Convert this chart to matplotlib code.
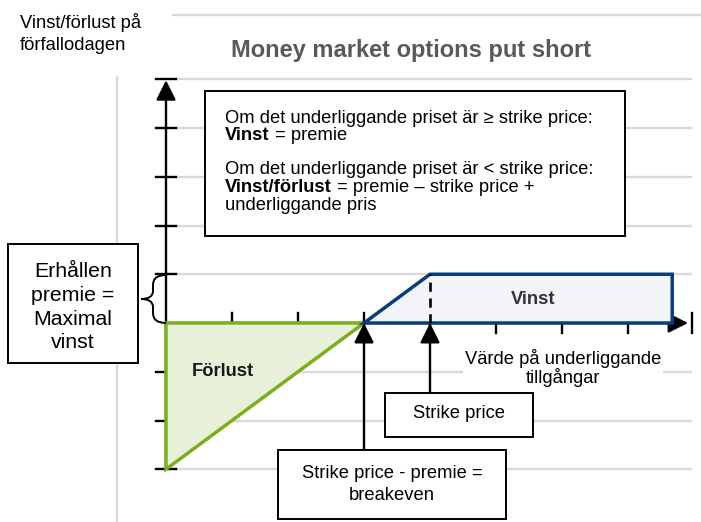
import matplotlib.pyplot as plt
from matplotlib.patches import Polygon, Rectangle, PathPatch
from matplotlib.path import Path
from matplotlib.transforms import Affine2D

plt.rcParams['font.family'] = ['Liberation Sans', 'DejaVu Sans']

# payoff data (short put), units of the diagram grid
premium = 1
strike = 4
breakeven = strike - premium
x_end = 7.67
loss_x = [0, breakeven, 0]
loss_y = [0, 0, -3]
profit_x = [breakeven, strike, x_end, x_end]
profit_y = [0, premium, premium, 0]
x_ticks = [1, 2, 3, 4, 5, 6, 7]
y_ticks = [-3, -2, -1, 1, 2, 3, 4, 5]
grid_levels = [-3, -2, -1, 1, 2, 3, 4, 5]

W, H = 701, 522
fig = plt.figure(figsize=(W / 100, H / 100), dpi=100)
# image-pixel transform for the annotation layout
pix = Affine2D().scale(1 / W, -1 / H).translate(0, 1) + fig.transFigure

# axes: origin at pixel (166, 323), 66 px per x unit, 48.75 px per y unit
x0, y0, sx, sy = 166, 323, 66, 48.75
ax = fig.add_axes([0, 0, 1, 1])
ax.set_xlim(-x0 / sx, (W - x0) / sx)
ax.set_ylim((y0 - H) / sy, y0 / sy)
ax.axis('off')

def py2y(p):
    return (y0 - p) / sy

grid_c = '#d9d9d9'
ax.hlines(grid_levels, 0.1, 7.97, color=grid_c, lw=1.7, zorder=0)
ax.plot([173, 700], [15, 15], color=grid_c, lw=1.7, transform=pix, zorder=0)
ax.plot([117, 117], [77, 522], color=grid_c, lw=1.7, transform=pix, zorder=0)

# axes arrows
arrow = dict(arrowstyle='-|>', color='black', lw=1.7, mutation_scale=30,
             shrinkA=0, shrinkB=0)
ax.annotate('', xy=(0, 4.98), xytext=(0, -3), arrowprops=arrow, zorder=2)
ax.annotate('', xy=(7.91, 0), xytext=(0, 0), arrowprops=arrow, zorder=2)
ax.plot([7.97, 7.97], [-0.2, 0.2], color='black', lw=1.7, zorder=2)

for t in x_ticks:
    ax.plot([t, t], [-0.2, 0.2], color='black', lw=1.7, zorder=2)
for t in y_ticks:
    ax.plot([-0.15, 0.15], [t, t], color='black', lw=1.7, zorder=2)

# payoff areas
ax.add_patch(Polygon(list(zip(loss_x, loss_y)), closed=True, facecolor='#e9f0da',
                     edgecolor='#7cae1e', lw=2.5, joinstyle='miter', zorder=3))
ax.add_patch(Polygon(list(zip(profit_x, profit_y)), closed=True, facecolor='#f2f4f8',
                     edgecolor='#0a3d7a', lw=2.5, joinstyle='miter', zorder=3))
ax.plot([strike, strike], [0, premium], color='black', lw=1.9,
        dashes=(3.5, 2.5), zorder=4)

# pointer arrows from the label boxes
ax.annotate('', xy=(strike, 0), xytext=(strike, py2y(393)), arrowprops=arrow, zorder=5)
ax.annotate('', xy=(breakeven, 0), xytext=(breakeven, py2y(450)), arrowprops=arrow, zorder=5)

# boxes
def box(x, y, w, h):
    ax.add_patch(Rectangle((x, y), w, h, transform=pix, facecolor='white',
                           edgecolor='black', lw=1.4, zorder=6))

box(205, 91, 420, 145)
box(8, 244, 130, 119)
box(385, 393, 148, 44)
box(278, 450, 228, 69)

fs = 13.2
tx = 225
ax.text(tx, 123, 'Om det underliggande priset är ≥ strike price:', transform=pix,
        fontsize=fs, va='baseline', zorder=7)
b1 = ax.text(tx, 140, 'Vinst', transform=pix, fontsize=fs, fontweight='bold',
             va='baseline', zorder=7)
ax.annotate(' = premie', xy=(1, 0), xycoords=b1, fontsize=fs, va='bottom',
            ha='left', zorder=7)
ax.text(tx, 174, 'Om det underliggande priset är < strike price:', transform=pix,
        fontsize=fs, va='baseline', zorder=7)
b2 = ax.text(tx, 192, 'Vinst/förlust', transform=pix, fontsize=fs, fontweight='bold',
             va='baseline', zorder=7)
ax.annotate(' = premie – strike price +', xy=(1, 0), xycoords=b2, fontsize=fs,
            va='bottom', ha='left', zorder=7)
ax.text(tx, 210, 'underliggande pris', transform=pix, fontsize=fs,
        va='baseline', zorder=7)

for line, yb in zip(['Erhållen', 'premie =', 'Maximal', 'vinst'], [277, 301, 325, 348]):
    ax.text(73, yb, line, transform=pix, fontsize=15.3, ha='center', va='baseline', zorder=7)

ax.text(459, 413, 'Strike price', transform=pix, fontsize=fs, ha='center',
        va='center', zorder=7)
ax.text(392, 474, 'Strike price - premie =', transform=pix, fontsize=fs,
        ha='center', va='center', zorder=7)
ax.text(392, 496, 'breakeven', transform=pix, fontsize=fs, ha='center',
        va='center', zorder=7)

# brace next to the premium level
verts = [(166, 275), (153, 275), (153, 285), (153, 291), (153, 299), (141, 299),
         (153, 299), (153, 307), (153, 313), (153, 323), (166, 323)]
codes = [Path.MOVETO, Path.CURVE3, Path.CURVE3, Path.LINETO, Path.CURVE3, Path.CURVE3,
         Path.CURVE3, Path.CURVE3, Path.LINETO, Path.CURVE3, Path.CURVE3]
ax.add_patch(PathPatch(Path(verts, codes), transform=pix, facecolor='none',
                       edgecolor='black', lw=1.4, zorder=5))

# labels
ax.text(533, 300, 'Vinst', transform=pix, fontsize=fs, fontweight='bold',
        color='#333333', ha='center', va='center', zorder=7)
ax.text(223, 372, 'Förlust', transform=pix, fontsize=fs, fontweight='bold',
        color='#1a1a1a', ha='center', va='center', zorder=7)
ax.text(563, 368, 'Värde på underliggande\ntillgångar', transform=pix, fontsize=fs,
        ha='center', va='center', linespacing=1.05, zorder=7,
        bbox=dict(facecolor='white', edgecolor='none', pad=1))
ax.text(20, 28, 'Vinst/förlust på', transform=pix, fontsize=fs, va='baseline')
ax.text(20, 50, 'förfallodagen', transform=pix, fontsize=fs, va='baseline')
ax.text(411, 50, 'Money market options put short', transform=pix, fontsize=17,
        fontweight='bold', color='#595959', ha='center', va='center')

fig.savefig('out.png', dpi=100)
